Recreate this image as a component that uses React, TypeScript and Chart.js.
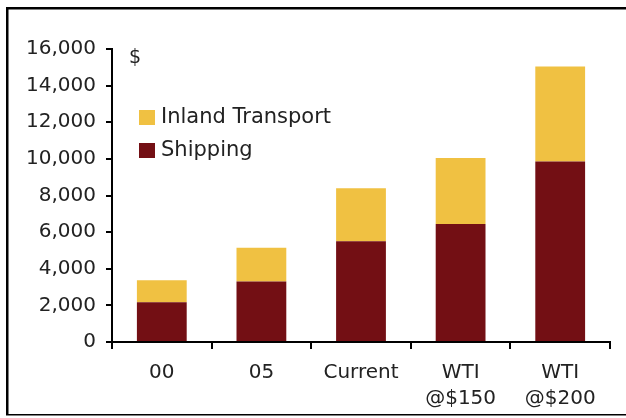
import React, { useEffect, useRef } from "react";
import { Chart, registerables } from "chart.js";

Chart.register(...registerables);

const categories: (string | string[])[] = ["00", "05", "Current", ["WTI", "@$150"], ["WTI", "@$200"]];
const shipping = [2170, 3300, 5500, 6450, 9850];
const inland = [1200, 1850, 2900, 3600, 5200];
const yTicks = [0, 2000, 4000, 6000, 8000, 10000, 12000, 14000, 16000];
const unitLabel = "$";

const SHIP = "#730F14";
const INLAND = "#F0C142";
const TEXT = "#222222";
const FONT = "'DejaVu Sans', Verdana, sans-serif";

const framePlugin = {
  id: "frame",
  afterDraw(chart: any) {
    const ctx = chart.ctx;
    const area = chart.chartArea;
    ctx.save();
    ctx.fillStyle = "#000";
    ctx.fillRect(6, 7, 620, 2.5);
    ctx.fillRect(6, 7, 2.5, 408);
    ctx.fillRect(6, 414, 620, 1.5);
    ctx.fillStyle = TEXT;
    ctx.font = `19px ${FONT}`;
    ctx.textBaseline = "middle";
    ctx.textAlign = "left";
    ctx.fillText(unitLabel, area.left + 17, area.top + 9);
    const ds = chart.data.datasets.slice().reverse();
    ctx.font = `21px ${FONT}`;
    ds.forEach((d: any, i: number) => {
      const y = area.top + 68 + i * 33;
      ctx.fillStyle = d.backgroundColor;
      ctx.fillRect(area.left + 27, y - 7, 16, 15);
      ctx.fillStyle = TEXT;
      ctx.fillText(d.label, area.left + 49, y + 1);
    });
    ctx.restore();
  },
};

export default function App() {
  const ref = useRef<HTMLCanvasElement>(null);
  useEffect(() => {
    const chart = new Chart(ref.current!, {
      type: "bar",
      data: {
        labels: categories,
        datasets: [
          { label: "Shipping", data: shipping, backgroundColor: SHIP, barPercentage: 0.5, categoryPercentage: 1 },
          { label: "Inland Transport", data: inland, backgroundColor: INLAND, barPercentage: 0.5, categoryPercentage: 1 },
        ],
      },
      options: {
        animation: false,
        responsive: false,
        devicePixelRatio: 1,
        layout: { padding: { top: 49, right: 16, left: 0, bottom: 0 } },
        plugins: { legend: { display: false }, tooltip: { enabled: false } },
        scales: {
          x: {
            stacked: true,
            afterFit: (s: any) => { s.height = 76; },
            grid: { drawOnChartArea: false, drawTicks: true, tickLength: 7, color: "#000", lineWidth: 2, offset: true },
            border: { color: "#000", width: 2 },
            ticks: { color: TEXT, font: { family: FONT, size: 20, lineHeight: 1.3 }, padding: 11, maxRotation: 0 },
          },
          y: {
            stacked: true,
            min: 0,
            max: 16000,
            afterFit: (s: any) => { s.width = 112; },
            afterBuildTicks: (s: any) => { s.ticks = yTicks.map((v) => ({ value: v })); },
            grid: { drawOnChartArea: false, drawTicks: true, tickLength: 6, color: "#000", lineWidth: 2 },
            border: { color: "#000", width: 2 },
            ticks: {
              color: TEXT,
              font: { family: FONT, size: 20 },
              padding: 10,
              callback: (v: any) => Number(v).toLocaleString("en-US"),
            },
          },
        },
      },
      plugins: [framePlugin],
    });
    return () => chart.destroy();
  }, []);
  return (
    <div style={{ position: "fixed", left: 0, top: 0, width: 626, height: 418, background: "#fff", overflow: "hidden" }}>
      <canvas ref={ref} width={626} height={418} style={{ display: "block", width: 626, height: 418 }} />
    </div>
  );
}
